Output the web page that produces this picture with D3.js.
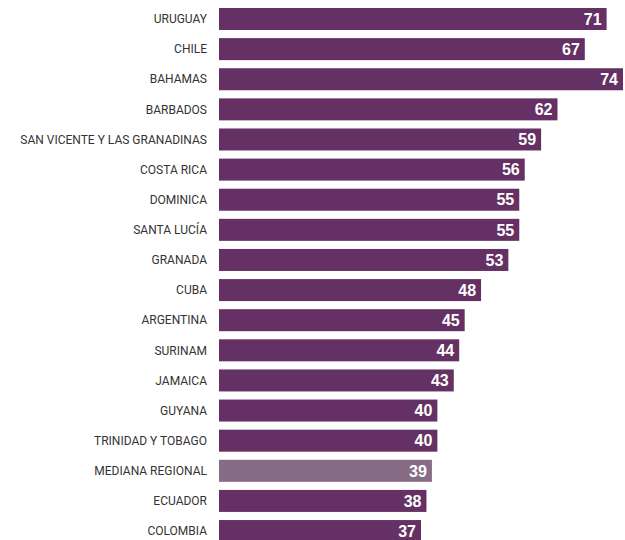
<!DOCTYPE html>
<html>
<head>
<meta charset="utf-8">
<script src="https://cdn.jsdelivr.net/npm/d3@7"></script>
<style>
  html, body { margin: 0; padding: 0; background: #fff; }
  svg { display: block; }
</style>
</head>
<body>
<svg id="chart" width="625" height="540"></svg>
<script>
// Countries, top to bottom
const categories = [
  "URUGUAY", "CHILE", "BAHAMAS", "BARBADOS", "SAN VICENTE Y LAS GRANADINAS",
  "COSTA RICA", "DOMINICA", "SANTA LUCÍA", "GRANADA", "CUBA", "ARGENTINA",
  "SURINAM", "JAMAICA", "GUYANA", "TRINIDAD Y TOBAGO", "MEDIANA REGIONAL",
  "ECUADOR", "COLOMBIA"
];
// Value per country
const values = [71, 67, 74, 62, 59, 56, 55, 55, 53, 48, 45, 44, 43, 40, 40, 39, 38, 37];
// Row drawn as the regional reference
const highlight = ["MEDIANA REGIONAL"];

const data = categories.map((c, i) => ({ name: c, value: values[i] }));

const svg = d3.select("#chart");
const plotLeft = 219, plotRight = 623, plotTop = 8;
const step = 30.12, barH = 22;
const n = categories.length;

const x = d3.scaleLinear()
  .domain([0, d3.max(values)])
  .range([plotLeft, plotRight]);

// Band scale whose bars sit `step` apart and are `barH` tall
const y = d3.scaleBand()
  .domain(categories)
  .range([plotTop, plotTop + step * (n - 1) + barH])
  .paddingInner((step - barH) / step)
  .paddingOuter(0);

const rows = svg.selectAll("g.row")
  .data(data)
  .join("g")
  .attr("class", "row");

rows.append("rect")
  .attr("x", x(0))
  .attr("y", d => y(d.name))
  .attr("width", d => x(d.value) - x(0))
  .attr("height", y.bandwidth())
  .attr("fill", d => highlight.includes(d.name) ? "#866c85" : "#653063");

rows.append("text")
  .attr("x", plotLeft - 12)
  .attr("y", d => y(d.name) + y.bandwidth() / 2)
  .attr("dy", "0.35em")
  .attr("text-anchor", "end")
  .attr("font-family", "Roboto, 'Liberation Sans', sans-serif")
  .attr("font-size", 12)
  .attr("fill", "#333")
  .text(d => d.name);

rows.append("text")
  .attr("x", d => x(d.value) - 5)
  .attr("y", d => y(d.name) + y.bandwidth() / 2)
  .attr("dy", "0.36em")
  .attr("text-anchor", "end")
  .attr("font-family", "'Liberation Sans', Arial, sans-serif")
  .attr("font-weight", "bold")
  .attr("font-size", 16)
  .attr("fill", "#fff")
  .text(d => d.value);
</script>
</body>
</html>
